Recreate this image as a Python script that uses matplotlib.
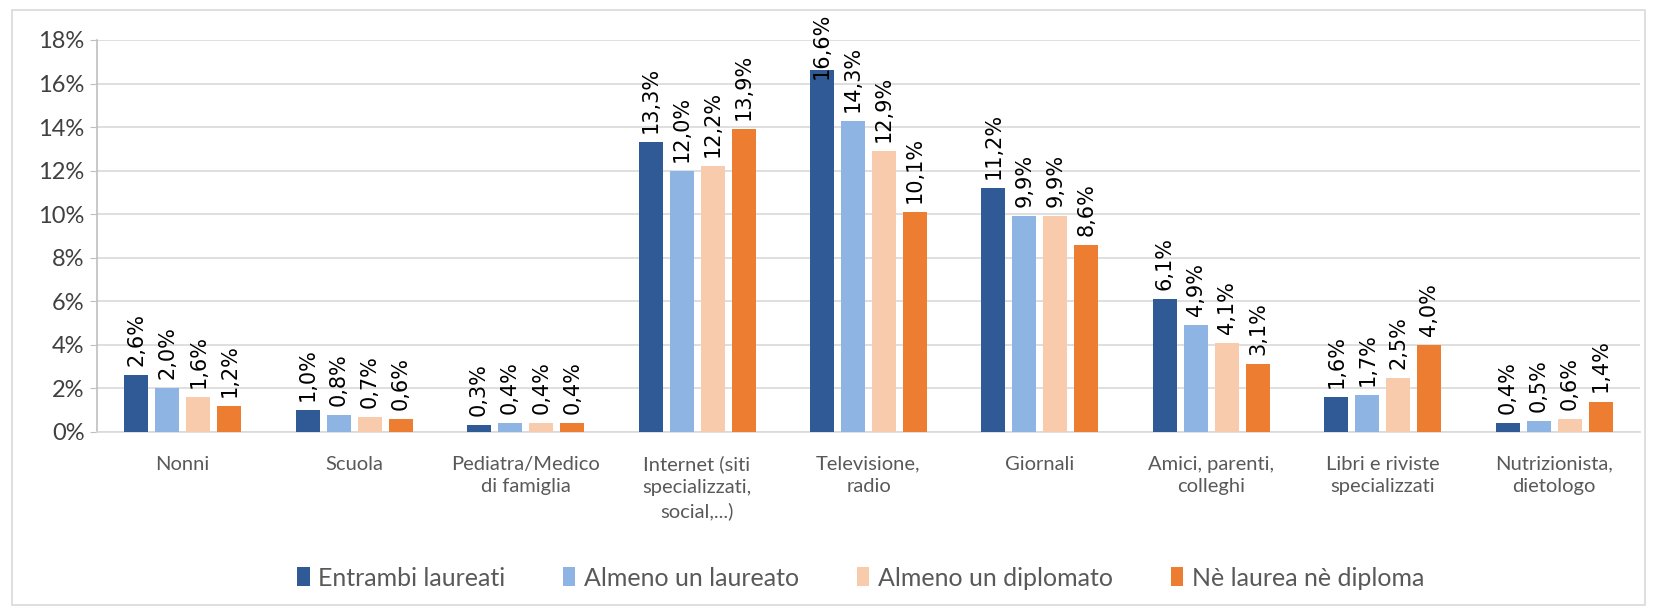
import matplotlib
matplotlib.use("Agg")
import matplotlib.pyplot as plt
import numpy as np
from matplotlib.patches import Rectangle

categories = ["Nonni", "Scuola", "Pediatra/Medico\ndi famiglia",
              "Internet (siti\nspecializzati,\nsocial,...)", "Televisione,\nradio",
              "Giornali", "Amici, parenti,\ncolleghi", "Libri e riviste\nspecializzati",
              "Nutrizionista,\ndietologo"]
series_names = ["Entrambi laureati", "Almeno un laureato", "Almeno un diplomato",
                "Nè laurea nè diploma"]
entrambi_laureati = [2.6, 1.0, 0.3, 13.3, 16.6, 11.2, 6.1, 1.6, 0.4]
almeno_un_laureato = [2.0, 0.8, 0.4, 12.0, 14.3, 9.9, 4.9, 1.7, 0.5]
almeno_un_diplomato = [1.6, 0.7, 0.4, 12.2, 12.9, 9.9, 4.1, 2.5, 0.6]
ne_laurea_ne_diploma = [1.2, 0.6, 0.4, 13.9, 10.1, 8.6, 3.1, 4.0, 1.4]
yticks = [0, 2, 4, 6, 8, 10, 12, 14, 16, 18]

series = [entrambi_laureati, almeno_un_laureato, almeno_un_diplomato, ne_laurea_ne_diploma]
colors = ["#2F5A96", "#8EB4E3", "#F8CBAD", "#ED7D31"]

W, H = 1655, 613
fig = plt.figure(figsize=(W / 100, H / 100), dpi=100)
fig.patch.set_facecolor("white")

# chart border
fig.patches.append(Rectangle((12 / W, 1 - 605 / H), (1645 - 12) / W, (605 - 10) / H,
                             transform=fig.transFigure, fill=False,
                             edgecolor="#D9D9D9", linewidth=1.2))

ax = fig.add_axes([97 / W, 1 - 432 / H, (1640 - 97) / W, (432 - 40) / H])
x = np.arange(len(categories))
step = 0.181
width = 0.14
for i, (vals, col, name) in enumerate(zip(series, colors, series_names)):
    pos = x + (i - 1.5) * step
    ax.bar(pos, vals, width=width, color=col, label=name, zorder=3)
    for px, v in zip(pos, vals):
        lab = f"{v:.1f}%".replace(".", ",")
        if v > 16:
            ax.annotate(lab, xy=(px, 18), xytext=(0, 20), textcoords="offset points",
                        rotation=90, ha="center", va="top", fontsize=15,
                        color="black", annotation_clip=False, zorder=4)
        else:
            ax.annotate(lab, xy=(px, v), xytext=(0, 6.5), textcoords="offset points",
                        rotation=90, ha="center", va="bottom", fontsize=15,
                        color="black", annotation_clip=False, zorder=4)

ax.set_xlim(-0.5, len(categories) - 0.5)
ax.set_ylim(0, 18)
ax.set_yticks(yticks)
ax.set_yticklabels([f"{t}%" for t in yticks], fontsize=17, color="#404040", family="Lato")
ax.set_xticks(x)
ax.set_xticklabels(categories, fontsize=14.5, color="#595959", family="Lato", linespacing=1.4)
ax.tick_params(axis="x", length=0, pad=17)
ax.tick_params(axis="y", length=5, color="#BFBFBF", pad=4)
ax.yaxis.grid(True, color="#D9D9D9", linewidth=1.2, zorder=0)
for s in ["top", "right"]:
    ax.spines[s].set_visible(False)
ax.spines["left"].set_color("#BFBFBF")
ax.spines["bottom"].set_color("#D9D9D9")
ax.spines["left"].set_linewidth(1.2)
ax.spines["bottom"].set_linewidth(1.2)

leg = fig.legend(loc="center", bbox_to_anchor=(0.52, 1 - 578 / H), ncol=4, frameon=False,
                 prop={"family": "Lato", "size": 18}, handlelength=0.5, handleheight=0.8,
                 handletextpad=0.35, columnspacing=2.3)
for t in leg.get_texts():
    t.set_color("#595959")

fig.savefig("out.png", dpi=100)
